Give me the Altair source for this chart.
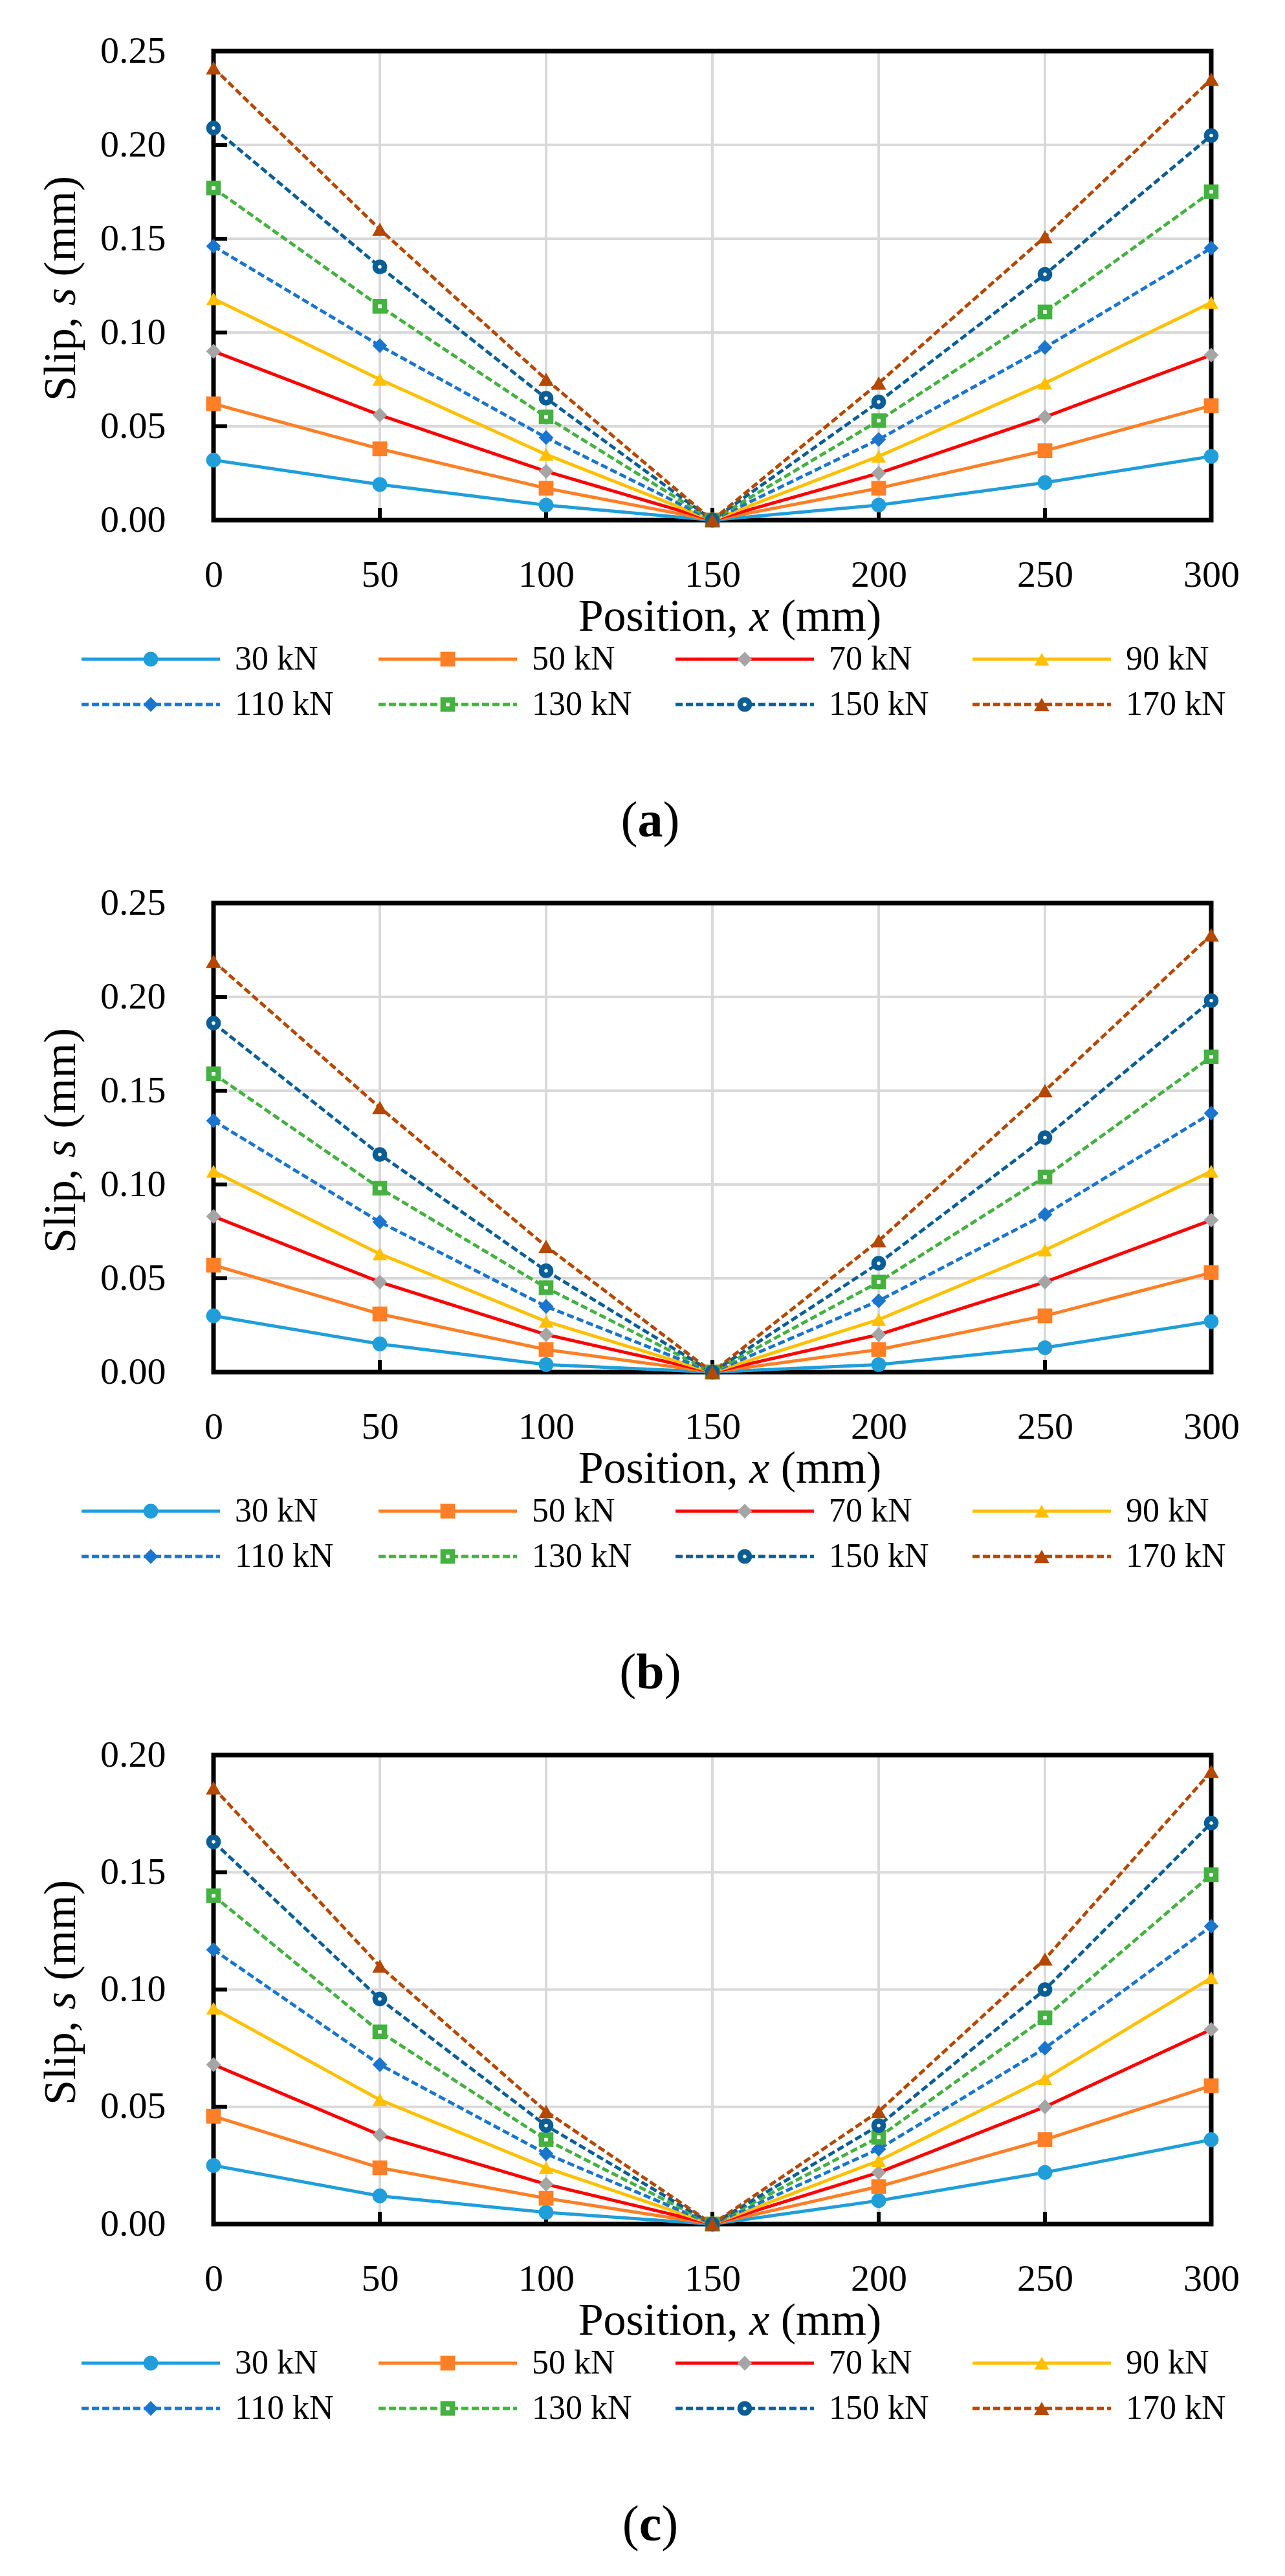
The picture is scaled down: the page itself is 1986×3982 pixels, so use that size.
import pandas as pd
import altair as alt

positions = [0, 50, 100, 150, 200, 250, 300]
loads = ["30 kN", "50 kN", "70 kN", "90 kN", "110 kN", "130 kN", "150 kN", "170 kN"]

# slip (mm), one list per load, panel (a)
slip_a = {
    "30 kN": [0.032, 0.019, 0.008, 0.0, 0.008, 0.020, 0.034],
    "50 kN": [0.062, 0.038, 0.017, 0.0, 0.017, 0.037, 0.061],
    "70 kN": [0.090, 0.056, 0.026, 0.0, 0.025, 0.055, 0.088],
    "90 kN": [0.118, 0.075, 0.035, 0.0, 0.034, 0.073, 0.116],
    "110 kN": [0.146, 0.093, 0.044, 0.0, 0.043, 0.092, 0.145],
    "130 kN": [0.177, 0.114, 0.055, 0.0, 0.053, 0.111, 0.175],
    "150 kN": [0.209, 0.135, 0.065, 0.0, 0.063, 0.131, 0.205],
    "170 kN": [0.241, 0.155, 0.075, 0.0, 0.073, 0.151, 0.235],
}
# panel (b)
slip_b = {
    "30 kN": [0.030, 0.015, 0.004, 0.0, 0.004, 0.013, 0.027],
    "50 kN": [0.057, 0.031, 0.012, 0.0, 0.012, 0.030, 0.053],
    "70 kN": [0.083, 0.048, 0.020, 0.0, 0.020, 0.048, 0.081],
    "90 kN": [0.107, 0.063, 0.027, 0.0, 0.028, 0.065, 0.107],
    "110 kN": [0.134, 0.080, 0.035, 0.0, 0.038, 0.084, 0.138],
    "130 kN": [0.159, 0.098, 0.045, 0.0, 0.048, 0.104, 0.168],
    "150 kN": [0.186, 0.116, 0.054, 0.0, 0.058, 0.125, 0.198],
    "170 kN": [0.219, 0.141, 0.067, 0.0, 0.070, 0.150, 0.233],
}
# panel (c)
slip_c = {
    "30 kN": [0.025, 0.012, 0.005, 0.0, 0.010, 0.022, 0.036],
    "50 kN": [0.046, 0.024, 0.011, 0.0, 0.016, 0.036, 0.059],
    "70 kN": [0.068, 0.038, 0.017, 0.0, 0.022, 0.050, 0.083],
    "90 kN": [0.092, 0.053, 0.024, 0.0, 0.027, 0.062, 0.105],
    "110 kN": [0.117, 0.068, 0.030, 0.0, 0.032, 0.075, 0.127],
    "130 kN": [0.140, 0.082, 0.036, 0.0, 0.037, 0.088, 0.149],
    "150 kN": [0.163, 0.096, 0.042, 0.0, 0.042, 0.100, 0.171],
    "170 kN": [0.186, 0.110, 0.048, 0.0, 0.048, 0.113, 0.193],
}
yticks_ab = [0.0, 0.05, 0.10, 0.15, 0.20, 0.25]
yticks_c = [0.0, 0.05, 0.10, 0.15, 0.20]

line_colors = ["#1F9ED9", "#FF7F27", "#FF0000", "#FFC000", "#1B75CC", "#44B140", "#0A5E95", "#B44800"]
marker_colors = ["#1F9ED9", "#FF7F27", "#A5A5A5", "#FFC000", "#1B75CC", "#44B140", "#0A5E95", "#B44800"]
shapes = ["circle", "square", "diamond", "triangle-up", "diamond", "square", "circle", "triangle-up"]
dashes = [[1, 0]] * 4 + [[11, 5]] * 4
ring_loads = ["130 kN", "150 kN"]

W, H = 1542, 725
FONT = "Liberation Serif"

# Times/Liberation advance widths (per 1000 em), used to place mixed-style title pieces
ROMAN = {"P": 556, "o": 500, "s": 389, "i": 278, "t": 278, "n": 500, ",": 250, " ": 250,
         "(": 333, ")": 333, "m": 778, "S": 556, "l": 278, "p": 500}
ITAL = {"x": 444, "s": 389}
BOLD = {"a": 500, "b": 556, "c": 444}


def tw(s, size, table):
    return sum(table[ch] for ch in s) * size / 1000


color_enc = alt.Color("Load:N", scale=alt.Scale(domain=loads, range=line_colors), legend=None)
dash_enc = alt.StrokeDash("Load:N", scale=alt.Scale(domain=loads, range=dashes), legend=None)
fill_enc = alt.Fill("Load:N", scale=alt.Scale(domain=loads, range=marker_colors), legend=None)
stroke_enc = alt.Stroke("Load:N", scale=alt.Scale(domain=loads, range=marker_colors), legend=None)
shape_enc = alt.Shape("Load:N", scale=alt.Scale(domain=loads, range=shapes), legend=None)


def px(field):
    return alt.X(field, type="quantitative", axis=None,
                 scale=alt.Scale(domain=[0, W], nice=False, zero=False))


def py(field):
    return alt.Y(field, type="quantitative", axis=None,
                 scale=alt.Scale(domain=[0, H], reverse=True, nice=False, zero=False))


def markers(chart, xe, ye):
    solid = chart.transform_filter(
        alt.FieldOneOfPredicate(field="Load", oneOf=[l for l in loads if l not in ring_loads and l != "170 kN"])
    ).mark_point(filled=True, size=520, opacity=1, strokeWidth=0).encode(x=xe, y=ye, fill=fill_enc, shape=shape_enc)
    ring = chart.transform_filter(
        alt.FieldOneOfPredicate(field="Load", oneOf=ring_loads)
    ).mark_point(filled=False, fill="white", size=200, opacity=1, strokeWidth=8.5).encode(
        x=xe, y=ye, stroke=stroke_enc, shape=shape_enc)
    top = chart.transform_filter(
        alt.FieldOneOfPredicate(field="Load", oneOf=["170 kN"])
    ).mark_point(filled=True, size=560, opacity=1, strokeWidth=0).encode(x=xe, y=ye, fill=fill_enc, shape=shape_enc)
    return [solid, ring, top]


def make_panel(slips, yvals, letter):
    rows = []
    for load in loads:
        for p, s in zip(positions, slips[load]):
            rows.append({"Position": p, "Slip": s, "Load": load})
    df = pd.DataFrame(rows)
    ymax = yvals[-1]

    x_sc = alt.Scale(domain=[0, 300], nice=False, zero=False)
    y_sc = alt.Scale(domain=[0, ymax], nice=False)
    x_ax = alt.Axis(values=positions, labelFlush=False, labelPadding=56, format="d")
    y_ax = alt.Axis(values=yvals, format=".2f", labelPadding=74)

    def xe(field):
        return alt.X(field, type="quantitative", title=None, scale=x_sc, axis=x_ax)

    def ye(field):
        return alt.Y(field, type="quantitative", title=None, scale=y_sc, axis=y_ax)

    # gridlines as rules so the frame and ticks sit on top of them
    vg = pd.DataFrame({"Position": positions[1:-1]})
    vg["Slip"] = 0
    vg["S2"] = ymax
    hg = pd.DataFrame({"Slip": yvals[1:-1]})
    hg["Position"] = 0
    hg["P2"] = 300
    vgrid = alt.Chart(vg).mark_rule(color="#D9D9D9", strokeWidth=4).encode(
        x=xe("Position"), y=ye("Slip"), y2="S2")
    hgrid = alt.Chart(hg).mark_rule(color="#D9D9D9", strokeWidth=4).encode(
        x=xe("Position"), x2="P2", y=ye("Slip"))

    # plot-area frame
    frame = alt.Chart(pd.DataFrame({"Position": [0], "P2": [300], "Slip": [0], "S2": [ymax]})).mark_rect(
        filled=False, stroke="black", strokeWidth=7
    ).encode(x=xe("Position"), x2="P2", y=ye("Slip"), y2="S2")

    # inward tick marks
    ytk_df = pd.DataFrame({"Slip": yvals[1:-1]})
    ytk_df["Position"] = 0
    ytk_df["P2"] = 21 / W * 300
    ytk = alt.Chart(ytk_df).mark_rule(color="black", strokeWidth=6).encode(
        x=xe("Position"), x2="P2", y=ye("Slip"))
    xtk_df = pd.DataFrame({"Position": positions[1:-1]})
    xtk_df["Slip"] = 0
    xtk_df["S2"] = 19 / H * ymax
    xtk = alt.Chart(xtk_df).mark_rule(color="black", strokeWidth=6).encode(
        x=xe("Position"), y=ye("Slip"), y2="S2")

    lines = alt.Chart(df).mark_line(strokeWidth=5).encode(
        x=xe("Position"), y=ye("Slip"), color=color_enc, strokeDash=dash_enc)

    main = alt.layer(vgrid, hgrid, frame, ytk, xtk, lines,
                     *markers(alt.Chart(df), xe("Position"), ye("Slip")))

    # legend below the plot: 4 columns x 2 rows
    leg = pd.DataFrame({"Load": loads})
    col = [i % 4 for i in range(len(loads))]
    row = [i // 4 for i in range(len(loads))]
    leg["x0"] = [-204 + c * 459 for c in col]
    leg["x1"] = leg["x0"] + 214
    leg["xm"] = leg["x0"] + 107
    leg["xt"] = [33 + c * 459 for c in col]
    leg["y"] = [940 + r * 70 for r in row]

    leg_lines = alt.Chart(leg).mark_rule(strokeWidth=5).encode(
        x=px("x0"), x2=alt.X2("x1"), y=py("y"), color=color_enc, strokeDash=dash_enc)
    leg_text = alt.Chart(leg).mark_text(
        align="left", baseline="middle", font=FONT, fontSize=52, color="black"
    ).encode(x=px("xt"), y=py("y"), text="Load:N")

    # x title "Position, x (mm)" with italic x
    f = 70
    parts = [("Position,", ROMAN), (" ", ROMAN), ("x", ITAL), (" ", ROMAN), ("(mm)", ROMAN)]
    total = sum(tw(s, f, t) for s, t in parts)
    x0 = 798 - total / 2
    starts = []
    for s, t in parts:
        starts.append(x0)
        x0 += tw(s, f, t)
    xt_plain = pd.DataFrame({"t": ["Position,", "(mm)"], "x": [starts[0], starts[4]], "y": [896, 896]})
    xt_ital = pd.DataFrame({"t": ["x"], "x": [starts[2]], "y": [896]})

    # y title "Slip, s (mm)" with italic s, rotated
    parts = [("Slip,", ROMAN), (" ", ROMAN), ("s", ITAL), (" ", ROMAN), ("(mm)", ROMAN)]
    total = sum(tw(s, f, t) for s, t in parts)
    y0 = 367 + total / 2
    ystarts = []
    for s, t in parts:
        ystarts.append(y0)
        y0 -= tw(s, f, t)
    yt_plain = pd.DataFrame({"t": ["Slip,", "(mm)"], "x": [-214, -214], "y": [ystarts[0], ystarts[4]]})
    yt_ital = pd.DataFrame({"t": ["s"], "x": [-214], "y": [ystarts[2]]})

    # caption "(a)" with bold letter
    fc = 78
    wl = tw("(", fc, ROMAN)
    wm = tw(letter, fc, BOLD)
    c0 = 675 - (2 * wl + wm) / 2
    cap_plain = pd.DataFrame({"t": ["(", ")"], "x": [c0, c0 + wl + wm], "y": [1214, 1214]})
    cap_bold = pd.DataFrame({"t": [letter], "x": [c0 + wl], "y": [1214]})

    def txt(data, **kw):
        return alt.Chart(data).mark_text(
            align="left", baseline="alphabetic", font=FONT, color="black", **kw
        ).encode(x=px("x"), y=py("y"), text="t:N")

    legend = alt.layer(
        leg_lines, *markers(alt.Chart(leg), px("xm"), py("y")), leg_text,
        txt(xt_plain, fontSize=f), txt(xt_ital, fontSize=f, fontStyle="italic"),
        txt(yt_plain, fontSize=f, angle=270), txt(yt_ital, fontSize=f, fontStyle="italic", angle=270),
        txt(cap_plain, fontSize=fc), txt(cap_bold, fontSize=fc, fontWeight="bold"),
    )

    return alt.layer(main, legend).resolve_scale(x="independent", y="independent").properties(
        width=W, height=H)


chart = alt.vconcat(
    make_panel(slip_a, yticks_ab, "a"),
    make_panel(slip_b, yticks_ab, "b"),
    make_panel(slip_c, yticks_c, "c"),
    spacing=58,
).properties(
    padding={"left": 52, "top": 42, "right": 10, "bottom": 10}
).configure_view(
    stroke=None
).configure_axis(
    labelFont=FONT, labelFontSize=58, labelColor="black",
    grid=False, domain=False, ticks=False, tickSize=0,
)

chart.save("out.html", embed_options={"renderer": "svg", "actions": False})
